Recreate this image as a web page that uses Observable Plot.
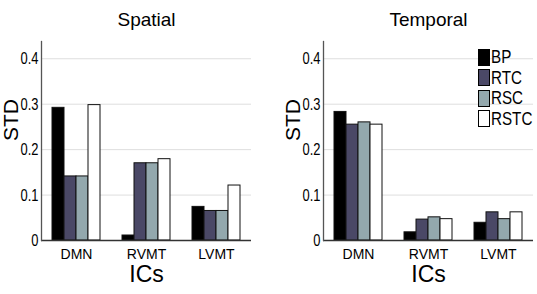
<!DOCTYPE html>
<html>
<head>
<meta charset="utf-8">
<script src="https://cdn.jsdelivr.net/npm/d3@7"></script>
<script src="https://cdn.jsdelivr.net/npm/@observablehq/plot@0.6"></script>
<style>
  body { margin: 0; background: #fff; }
  #chart { position: relative; width: 537px; height: 294px; background: #fff; }
  #chart .panel { position: absolute; top: 0; }
  #legend { position: absolute; left: 478px; top: 47px; font-family: "Liberation Sans", Arial, sans-serif; font-size: 19px; color: #000; }
  #legend .row { display: flex; align-items: center; height: 20.5px; }
  #legend .box { box-sizing: border-box; flex: none; width: 12px; height: 17px; border: 1px solid #000; margin-right: 0.5px; }
  #legend .name { display: inline-block; transform: scaleX(0.8); transform-origin: 0 50%; }
</style>
</head>
<body>
<div id="chart"></div>
<script>
// Independent components (groups along the x axis) and reconstruction methods (bars within a group)
const ics = ["DMN", "RVMT", "LVMT"];
const methods = ["BP", "RTC", "RSC", "RSTC"];
const methodColors = ["#000000", "#4a4866", "#93a8ad", "#ffffff"];

// Standard deviation per method, listed in ics order
const spatialBP = [0.292, 0.011, 0.074];
const spatialRTC = [0.141, 0.170, 0.065];
const spatialRSC = [0.141, 0.170, 0.065];
const spatialRSTC = [0.298, 0.179, 0.121];

const temporalBP = [0.283, 0.018, 0.039];
const temporalRTC = [0.255, 0.046, 0.062];
const temporalRSC = [0.260, 0.051, 0.047];
const temporalRSTC = [0.255, 0.047, 0.062];

const yTicks = [0, 0.1, 0.2, 0.3, 0.4];

const regular = "'Liberation Sans', Arial, Helvetica, sans-serif";

function toRows(series) {
  return ics.flatMap((ic, i) => methods.map((m, j) => ({ic, method: m, value: series[j][i]})));
}

// Squeeze a text horizontally (a condensed look) while keeping its anchor
function condense(svg, selector, factor) {
  d3.select(svg).selectAll(selector).each(function () {
    this.setAttribute("lengthAdjust", "spacingAndGlyphs");
    this.setAttribute("textLength", this.getComputedTextLength() * factor);
  });
}

function panel(title, series, {width, marginLeft, marginRight}) {
  return Plot.plot({
    width,
    height: 294,
    marginLeft,
    marginRight,
    marginTop: 41,
    marginBottom: 54,
    style: {fontFamily: regular, background: "transparent", color: "#000", overflow: "visible"},
    fx: {domain: ics, padding: 0},
    x: {domain: methods, paddingInner: 0, paddingOuter: 0.7, axis: null},
    y: {domain: [0, 0.438]},
    color: {domain: methods, range: methodColors},
    marks: [
      // grid and baseline repeat in each (contiguous) facet
      Plot.ruleY(yTicks.slice(1), {stroke: "#dedede", strokeWidth: 1}),
      Plot.barY(toRows(series), {fx: "ic", x: "method", y: "value", fill: "method", stroke: "#111", strokeWidth: 1}),
      Plot.ruleY([0], {stroke: "#333", strokeWidth: 1.3}),
      Plot.frame({anchor: "left", stroke: "#555", strokeWidth: 1.3, facet: "super"}),
      Plot.axisY({ticks: yTicks, tickSize: 0, tickPadding: 3, fontSize: 17,
                  tickFormat: d => d === 0 ? "0" : d.toFixed(1), label: null}),
      Plot.axisFx({anchor: "bottom", tickSize: 0, tickPadding: 9, fontSize: 14, label: null}),
      Plot.text([title], {frameAnchor: "top", lineAnchor: "middle", dy: -22, fontSize: 19, facet: "super"}),
      Plot.text(["ICs"], {frameAnchor: "bottom", lineAnchor: "middle", dy: 34.3, fontSize: 23, facet: "super", ariaLabel: "x-label"}),
      Plot.text(["STD"], {frameAnchor: "left", dx: -30.5, rotate: -90, fontSize: 21, facet: "super"})
    ]
  });
}

const chart = d3.select("#chart");

const left = chart.append("div").attr("class", "panel").style("left", "0px");
const spatialSvg = panel("Spatial", [spatialBP, spatialRTC, spatialRSC, spatialRSTC],
  {width: 268, marginLeft: 40, marginRight: 15.5});
left.node().append(spatialSvg);

const right = chart.append("div").attr("class", "panel").style("left", "268px");
const temporalSvg = panel("Temporal", [temporalBP, temporalRTC, temporalRSC, temporalRSTC],
  {width: 269, marginLeft: 54, marginRight: 2.5});
right.node().append(temporalSvg);

for (const svg of [spatialSvg, temporalSvg]) {
  condense(svg, 'g[aria-label="y-axis tick label"] text', 0.76);
  condense(svg, 'g[aria-label="x-label"] text', 0.76);
}

// Method key in the upper right of the temporal panel
const legend = chart.append("div").attr("id", "legend");
const rows = legend.selectAll("div.row").data(methods).join("div").attr("class", "row");
rows.append("span").attr("class", "box").style("background", (d, i) => methodColors[i]);
rows.append("span").attr("class", "name").text(d => d);
</script>
</body>
</html>
